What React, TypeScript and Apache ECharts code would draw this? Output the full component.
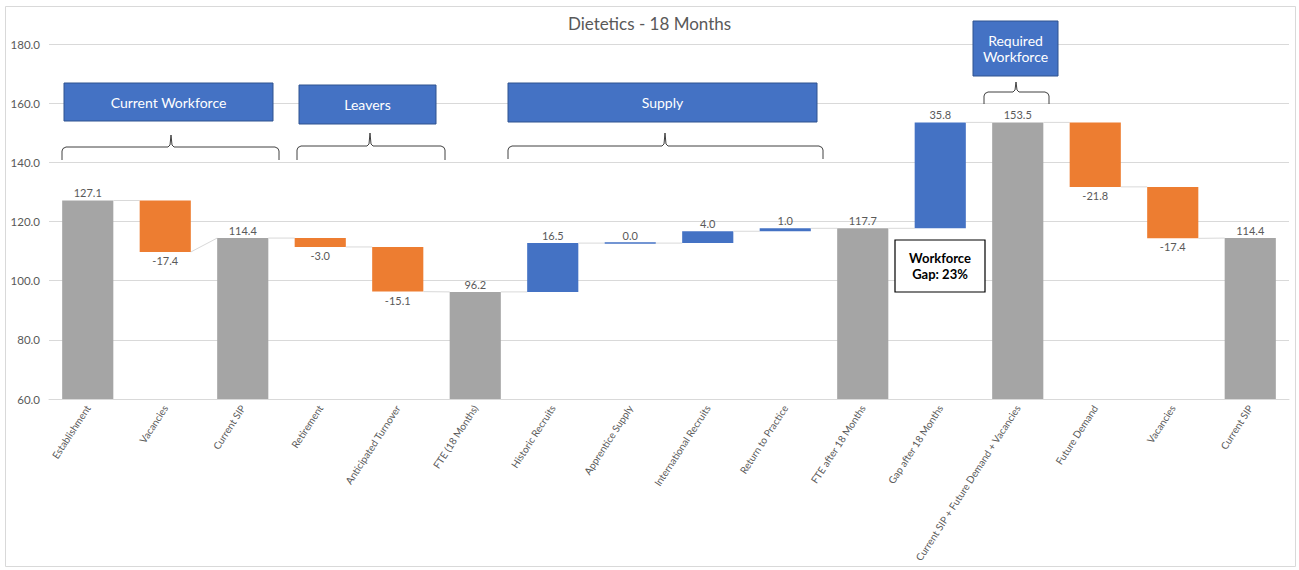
import React, { useEffect, useRef } from "react";
import * as echarts from "echarts";

const categories = [
  "Establishment",
  "Vacancies",
  "Current SIP",
  "Retirement",
  "Anticipated Turnover",
  "FTE (18 Months)",
  "Historic Recruits",
  "Apprentice Supply",
  "International Recruits",
  "Return to Practice",
  "FTE after 18 Months",
  "Gap after 18 Months",
  "Current SIP + Future Demand + Vacancies",
  "Future Demand",
  "Vacancies",
  "Current SIP",
];
const values = [127.1, -17.4, 114.4, -3.0, -15.1, 96.2, 16.5, 0.0, 4.0, 1.0, 117.7, 35.8, 153.5, -21.8, -17.4, 114.4];
const kinds = [
  "total", "delta", "total", "delta", "delta", "total", "delta", "delta",
  "delta", "delta", "total", "delta", "total", "delta", "delta", "total",
];
const yMin = 60;
const yMax = 180;
const yInterval = 20;

const groupLabels = [["Current Workforce"], ["Leavers"], ["Supply"], ["Required", "Workforce"]];
const gapLabel = ["Workforce", "Gap: 23%"];
const titleText = "Dietetics - 18 Months";

const GRAY = "#A5A5A5";
const ORANGE = "#ED7D31";
const BLUE = "#4472C4";
const TXT = "#595959";
const GRID = "#D9D9D9";
const FONT = "Lato, 'Open Sans', sans-serif";

function buildRows() {
  const rows: any[] = [];
  let prevEnd = 0;
  const starts: number[] = [];
  const ends: number[] = [];
  for (let i = 0; i < values.length; i++) {
    const v = values[i];
    if (kinds[i] === "total") {
      starts.push(v);
      ends.push(v);
      rows.push({ low: yMin, high: v });
      prevEnd = v;
    } else {
      const s = prevEnd;
      const e = prevEnd + v;
      starts.push(s);
      ends.push(e);
      rows.push({ low: Math.min(s, e), high: Math.max(s, e) });
      prevEnd = e;
    }
  }
  return rows.map((r, i) => [
    i,
    r.low,
    r.high,
    ends[i],
    i < values.length - 1 ? starts[i + 1] : ends[i],
  ]);
}

function brace(x1: number, x2: number, tip: number, yTip: number, yMid: number, yEnd: number) {
  return {
    type: "polyline",
    silent: true,
    z: 50,
    shape: {
      points: [
        [x1, yEnd],
        [x1, yMid + 4],
        [x1 + 1, yMid + 1.5],
        [x1 + 4, yMid],
        [tip - 3, yMid],
        [tip - 1, yMid - 2],
        [tip, yTip],
        [tip + 1, yMid - 2],
        [tip + 3, yMid],
        [x2 - 4, yMid],
        [x2 - 1, yMid + 1.5],
        [x2, yMid + 4],
        [x2, yEnd],
      ],
    },
    style: { stroke: "#404040", lineWidth: 1, fill: null },
  };
}

function lines(cx: number, cy: number, texts: string[], lh: number, font: string, fill: string) {
  const n = texts.length;
  return texts.map((t, k) => ({
    type: "text",
    silent: true,
    z: 52,
    x: cx,
    y: cy + (k - (n - 1) / 2) * lh,
    style: {
      text: t,
      fill,
      font,
      align: "center",
      verticalAlign: "middle",
      textAlign: "center",
      textVerticalAlign: "middle",
    },
  }));
}

function box(x: number, y: number, w: number, h: number, texts: string[]) {
  return {
    type: "group",
    silent: true,
    children: [
      {
        type: "rect",
        z: 51,
        shape: { x, y, width: w, height: h },
        style: { fill: BLUE, stroke: "#2F528F", lineWidth: 1 },
      },
      ...lines(x + w / 2, y + h / 2, texts, 16, `14px ${FONT}`, "#FFFFFF"),
    ],
  };
}

export default function App() {
  const ref = useRef<HTMLDivElement>(null);
  useEffect(() => {
    if (!ref.current) return;
    const chart = echarts.init(ref.current, undefined, { renderer: "svg" });
    const data = buildRows();
    const option: any = {
      animation: false,
      backgroundColor: "#FFFFFF",
      title: {
        text: titleText,
        left: "center",
        top: 10,
        textStyle: { color: TXT, fontSize: 17, fontWeight: "normal", fontFamily: FONT },
      },
      grid: { left: 49, right: 10, top: 44, bottom: 171, containLabel: false, outerBoundsMode: "none" },
      xAxis: {
        type: "category",
        data: categories,
        axisTick: { show: false },
        axisLine: { show: true, lineStyle: { color: GRID } },
        axisLabel: {
          interval: 0,
          rotate: 57,
          color: TXT,
          fontSize: 10,
          fontFamily: FONT,
          margin: 7,
        },
      },
      yAxis: {
        type: "value",
        min: yMin,
        max: yMax,
        interval: yInterval,
        axisLine: { show: false },
        axisTick: { show: false },
        splitLine: { lineStyle: { color: GRID } },
        axisLabel: {
          color: TXT,
          fontSize: 11.5,
          fontFamily: FONT,
          margin: 9,
          formatter: (v: number) => v.toFixed(1),
        },
      },
      series: [
        {
          type: "custom",
          data,
          encode: { x: 0, y: [1, 2] },
          clip: false,
          renderItem: (params: any, api: any) => {
            const i = api.value(0);
            const idx = params.dataIndex;
            const pLow = api.coord([i, api.value(1)]);
            const pHigh = api.coord([i, api.value(2)]);
            const band = api.size([1, 0])[0];
            const bw = band * 0.66;
            let y = pHigh[1];
            let h = pLow[1] - pHigh[1];
            if (h < 1.5) {
              y = pHigh[1] - 0.75;
              h = 1.5;
            }
            const v = values[idx];
            const color = kinds[idx] === "total" ? GRAY : v < 0 ? ORANGE : BLUE;
            const children: any[] = [
              {
                type: "rect",
                shape: { x: pLow[0] - bw / 2, y, width: bw, height: h },
                style: { fill: color },
              },
            ];
            if (idx < values.length - 1) {
              const pEnd = api.coord([i, api.value(3)]);
              const pNext = api.coord([i + 1, api.value(4)]);
              children.push({
                type: "line",
                shape: { x1: pEnd[0] + bw / 2, y1: pEnd[1], x2: pNext[0] - bw / 2, y2: pNext[1] },
                style: { stroke: GRID, lineWidth: 1 },
              });
            }
            const below = kinds[idx] === "delta" && v < 0;
            children.push({
              type: "text",
              x: pLow[0],
              y: below ? pLow[1] + 3 : pHigh[1] - 2,
              style: {
                text: v.toFixed(1),
                fill: TXT,
                font: `11px ${FONT}`,
                align: "center",
                verticalAlign: below ? "top" : "bottom",
                textAlign: "center",
                textVerticalAlign: below ? "top" : "bottom",
              },
            });
            return { type: "group", children };
          },
        },
      ],
      graphic: {
        elements: [
          {
            type: "rect",
            silent: true,
            shape: { x: 5.5, y: 6.5, width: 1290, height: 560 },
            style: { fill: null, stroke: GRID, lineWidth: 1 },
            z: -10,
          },
          box(64, 83, 209, 38, groupLabels[0]),
          box(299, 85, 137, 39, groupLabels[1]),
          box(508, 83, 309, 39, groupLabels[2]),
          box(973, 21, 85, 55, groupLabels[3]),
          brace(62, 279, 171, 135, 147, 160),
          brace(297, 445, 370, 133, 146, 160),
          brace(508, 823, 665, 133, 146, 159),
          brace(984, 1049, 1016, 82, 92, 104),
          {
            type: "group",
            silent: true,
            children: [
              {
                type: "rect",
                z: 51,
                shape: { x: 895, y: 240, width: 90, height: 52 },
                style: { fill: "#FFFFFF", stroke: "#000000", lineWidth: 1.2 },
              },
              ...lines(940, 266, gapLabel, 16, `bold 13px ${FONT}`, "#000000"),
            ],
          },
        ],
      },
    };
    chart.setOption(option);
    return () => chart.dispose();
  }, []);
  return (
    <div
      ref={ref}
      style={{ position: "absolute", left: 0, top: 0, width: 1299, height: 570 }}
    />
  );
}
